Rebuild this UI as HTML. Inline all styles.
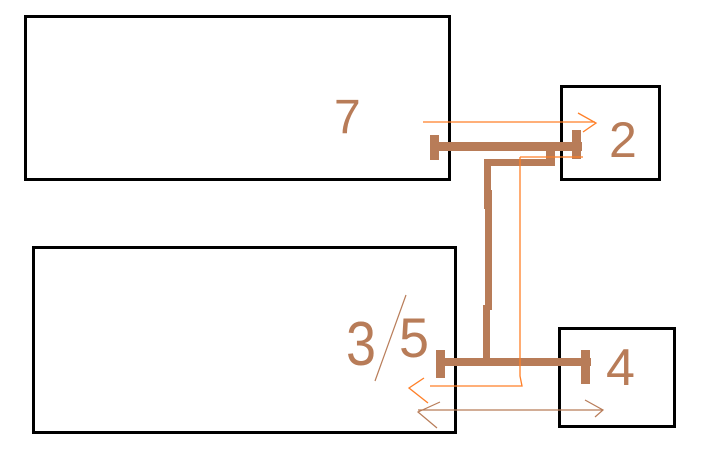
<!DOCTYPE html>
<html><head><style>html,body{margin:0;padding:0;background:#fff;width:718px;height:465px;overflow:hidden}</style></head>
<body>
<svg width="718" height="465" viewBox="0 0 718 465" xmlns="http://www.w3.org/2000/svg" style="display:block">
<g fill="none" stroke="#000" stroke-width="3">
<rect x="25.5" y="16.5" width="424" height="163"/>
<rect x="561.5" y="86.5" width="98" height="93"/>
<rect x="33.5" y="247.5" width="422" height="185"/>
<rect x="559.5" y="328.5" width="115" height="98"/>
</g>
<g fill="#b87c58">
<rect x="430" y="142" width="152" height="9"/>
<rect x="430" y="135" width="9" height="25"/>
<rect x="572" y="130" width="9" height="29"/>
<rect x="546" y="142" width="9" height="24"/>
<rect x="484" y="159" width="71" height="7"/>
<rect x="484" y="159" width="7" height="50"/>
<rect x="485" y="190" width="7" height="120"/>
<rect x="483" y="305" width="7" height="60"/>
<rect x="437" y="358" width="154" height="8"/>
<rect x="436" y="350" width="9" height="28"/>
<rect x="581" y="350" width="9" height="34"/>
</g>
<g fill="none" stroke="#ff7f27" stroke-width="1.3">
<polyline points="423,122 595,122"/>
<polyline points="578,113 596,123 583,132"/>
<polyline points="520,157 583,157"/>
<polyline points="520,157 520,376 522,386 430,386"/>
<polyline points="424,378 409,388 428,403"/>
</g>
<g fill="none" stroke="#b87c58" stroke-width="1.2">
<polyline points="418,410 603,410"/>
<polyline points="440,402 418,412 437,428"/>
<polyline points="585,400 603,410 595,417"/>
<polyline points="406,295 375,381"/>
</g>
<g fill="#b87c58" font-family="Liberation Sans, sans-serif" font-weight="normal">
<text x="334" y="133" font-size="48">7</text>
<text x="609" y="157" font-size="50">2</text>
<text x="346" y="365" font-size="62" textLength="30" lengthAdjust="spacingAndGlyphs">3</text>
<text x="399" y="357" font-size="56" textLength="30" lengthAdjust="spacingAndGlyphs">5</text>
<text x="606" y="385" font-size="52">4</text>
</g>
</svg>
</body></html>
